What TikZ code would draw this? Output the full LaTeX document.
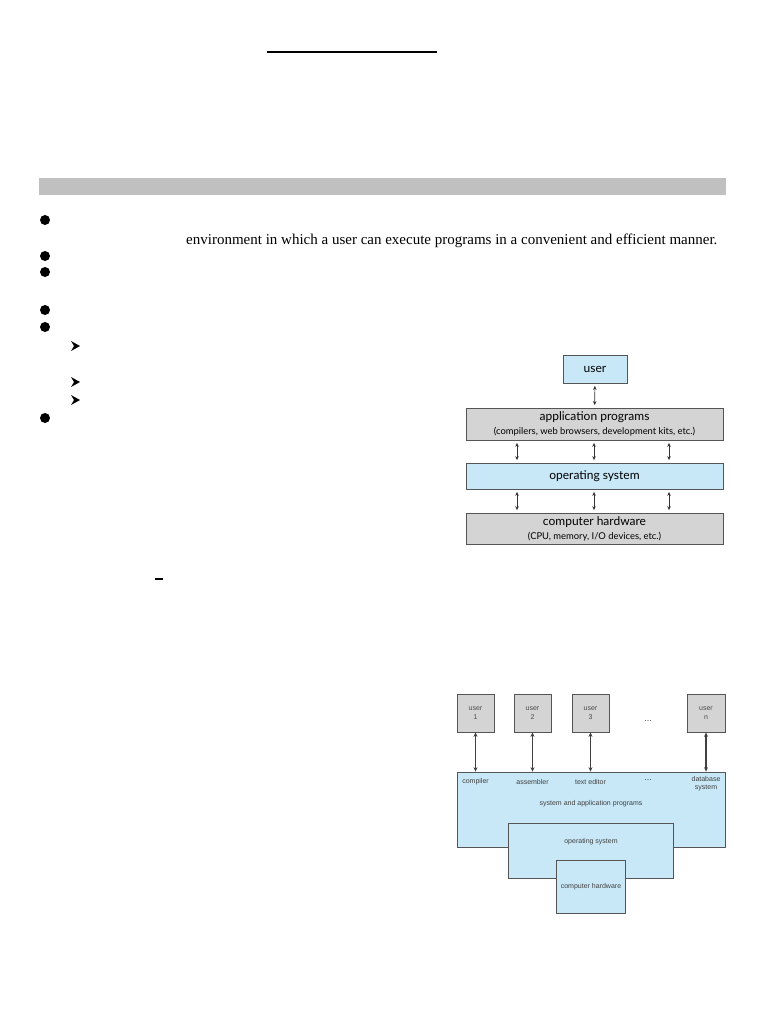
\documentclass[tikz,border=0pt]{standalone}
\usepackage{fontspec}
\setmainfont{Liberation Serif}
\newfontfamily\figfont{Lato}
\newfontfamily\smallfig{Liberation Sans}
\usetikzlibrary{positioning,arrows.meta,calc}
\definecolor{osblue}{RGB}{200,232,247}
\definecolor{hwgray}{RGB}{212,212,212}
\definecolor{bargray}{RGB}{192,192,192}
\definecolor{edge}{RGB}{85,85,85}

\begin{document}
\begin{tikzpicture}[
    x=1pt, y=-1pt,
    box/.style={rectangle, draw=edge, line width=0.8pt, inner sep=0pt, align=center, font=\figfont\fontsize{12}{13}\selectfont},
    bluebox/.style={box, fill=osblue},
    graybox/.style={box, fill=hwgray},
    link/.style={{Stealth[length=4pt,width=3.5pt]}-{Stealth[length=4pt,width=3.5pt]}, line width=0.6pt, color=black!80, shorten <=2.5pt, shorten >=2.5pt},
    ubox/.style={rectangle, draw=edge, line width=0.8pt, inner sep=0pt, align=center, font=\smallfig\fontsize{7}{8.5}\selectfont, text=black!70},
    tag/.style={inner sep=0pt, align=center, font=\smallfig\fontsize{7}{8}\selectfont, text=black!75},
    ulink/.style={{Stealth[length=4.5pt,width=4pt]}-{Stealth[length=4.5pt,width=4pt]}, line width=1.3pt, color=black!75}
]
\useasboundingbox (0,0) rectangle (768,1024);

% page text and marks
\draw[line width=2pt] (267,52) -- (437,52);
\fill[bargray] (39,178) rectangle (726,195);
\foreach \y in {220,256,272,310,327,418}
    \fill (45,\y) circle (5);
\foreach \y in {346,382,400}
    \fill (71,\y-5) -- (80,\y) -- (71,\y+5) -- (74,\y) -- cycle;
\node[anchor=west, inner sep=0pt, font=\fontsize{15}{17}\selectfont] (envline) at (186,241)
    {environment in which a user can execute programs in a convenient and efficient manner.};
\draw[line width=1.2pt] (155,579) -- (163,579);

% Layered view
\node[bluebox, minimum width=64, minimum height=28] (user) at (595,369) {user};
\node[graybox, minimum width=257, minimum height=32] (app) at (594.5,424)
    {application programs\\[1pt]{\figfont\fontsize{9.4}{10}\selectfont(compilers, web browsers, development kits, etc.)}};
\node[bluebox, minimum width=257, minimum height=26] (os) at (594.5,476) {operating system};
\node[graybox, minimum width=257, minimum height=31] (hw) at (594.5,528.5)
    {computer hardware\\[1pt]{\figfont\fontsize{9.4}{10}\selectfont(CPU, memory, I/O devices, etc.)}};

\draw[link] (user) -- (app);
\foreach \x in {517,594,669} {
    \coordinate (col) at (\x,0);
    \draw[link] (app.south -| col) -- (os.north -| col);
    \draw[link] (os.south -| col) -- (hw.north -| col);
}

% Multi-user view
\node[ubox, fill=osblue, minimum width=268, minimum height=75] (sys) at (591,809.5) {};
\node[ubox, fill=osblue, minimum width=165, minimum height=55] (kern) at (590.5,850.5) {};
\node[ubox, fill=osblue, minimum width=69, minimum height=53] (mach) at (590.5,886.5) {};

\node[ubox, fill=hwgray, minimum width=37, minimum height=38] (u1) at (475.5,713) {user\\1};
\node[ubox, fill=hwgray, minimum width=37, minimum height=38] (u2) at (532.5,713) {user\\2};
\node[ubox, fill=hwgray, minimum width=37, minimum height=38] (u3) at (590.5,713) {user\\3};
\node[ubox, fill=hwgray, minimum width=38, minimum height=38] (un) at (706,713) {user\\n};
\node[tag, font=\smallfig\fontsize{9}{9}\selectfont] (udots) at (648,721) {...};

\coordinate (row) at (0,782);
\node[tag] (comp) at (u1.south |- row) {compiler};
\node[tag] (asm) at (u2.south |- row) {assembler};
\node[tag] (edit) at (u3.south |- row) {text editor};
\node[tag, font=\smallfig\fontsize{9}{9}\selectfont] (pdots) at (648,780) {...};
\node[tag] (dbs) at (706,784) {database\\system};
\node[tag] (sysl) at (591,804) {system and application programs};
\node[tag] (kernl) at (591,842) {operating system};
\node[tag] (machl) at (591,887) {computer hardware};

\foreach \u in {u1,u2,u3,un}
    \draw[ulink] (\u.south) -- (\u.south |- sys.north);
\end{tikzpicture}
\end{document}
